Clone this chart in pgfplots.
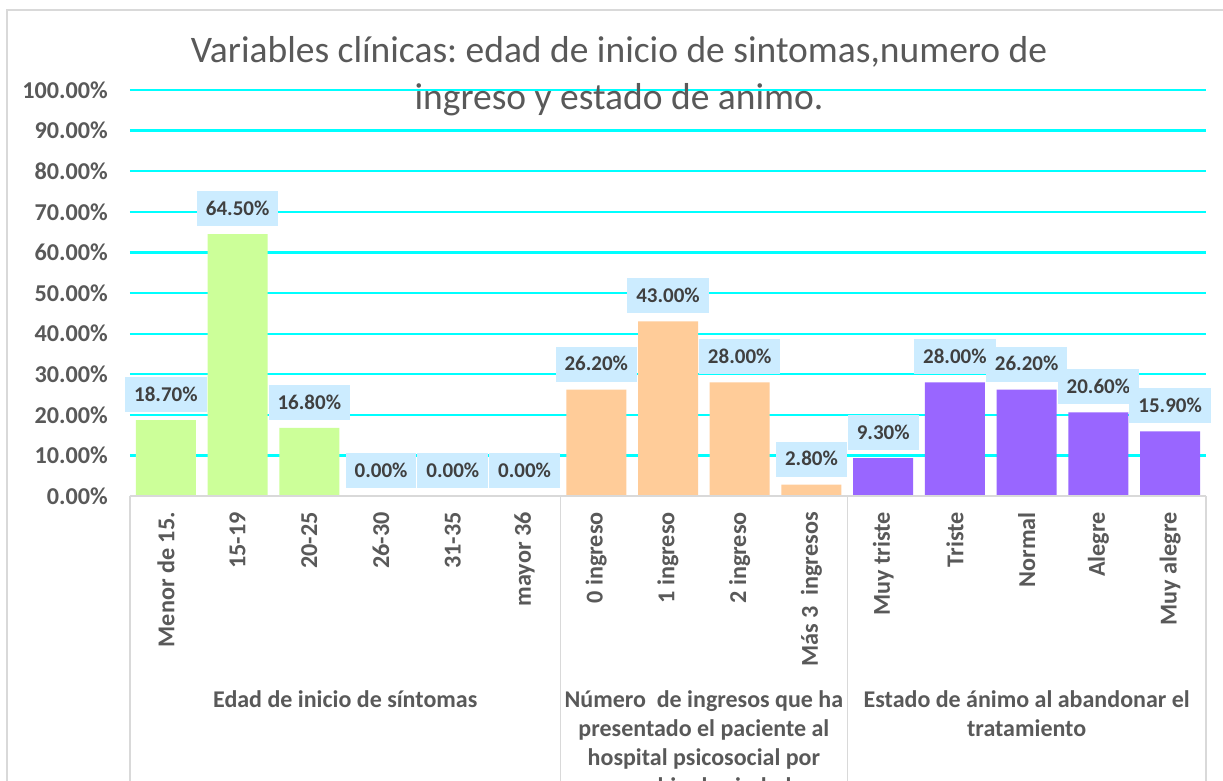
\documentclass[border=0pt]{standalone}
\usepackage{fontspec}
\setmainfont{Carlito}
\usepackage{pgfplots}
\pgfplotsset{compat=1.18}
\frenchspacing
\definecolor{tickgray}{HTML}{595959}
\definecolor{lblgray}{HTML}{404040}
\definecolor{lblfill}{HTML}{CCECFF}
\definecolor{gridc}{HTML}{00FFFF}
\definecolor{axgray}{HTML}{D9D9D9}
\definecolor{cgreen}{HTML}{CCFF99}
\definecolor{corange}{HTML}{FFCC99}
\definecolor{cpurple}{HTML}{9966FF}
\newcommand{\tickfont}{\fontsize{24.2}{28}\selectfont\bfseries}
\newcommand{\grpfont}{\fontsize{24}{28}\selectfont\bfseries}
\begin{document}
\begin{tikzpicture}[x=1pt,y=1pt]
\path[use as bounding box] (0,0) rectangle (1223,780);
\clip (0,0) rectangle (1223,780);
\fill[white] (0,0) rectangle (1223,780);
\draw[axgray, line width=1.5pt] (7,-10) rectangle (1240,770);
\begin{axis}[
  at={(130pt,284pt)}, anchor=south west,
  width=1076pt, height=406pt, scale only axis,
  xmin=-0.5, xmax=14.5, ymin=0, ymax=100,
  clip=false,
  axis line style={draw=none},
  major tick length=0pt,
  ymajorgrids, grid style={gridc, line width=2.2pt},
  ytick={0,10,...,100},
  yticklabels={0.00\%,10.00\%,20.00\%,30.00\%,40.00\%,50.00\%,60.00\%,70.00\%,80.00\%,90.00\%,100.00\%},
  yticklabel style={font=\tickfont, text=tickgray, inner sep=0pt},
  yticklabel shift=22pt,
  xtick={0,...,14},
  xticklabels={Menor de 15.,15-19,20-25,26-30,31-35,mayor 36,0 ingreso,1 ingreso,2 ingreso,{Más 3\ \ ingresos},Muy triste,Triste,Normal,Alegre,Muy alegre},
  xticklabel style={font=\tickfont, text=tickgray, inner sep=0pt, rotate=90, anchor=east},
  xticklabel shift=16pt,
  /pgf/number format/assume math mode=true,
  nodes near coords={\pgfmathprintnumber[fixed,fixed zerofill,precision=2]{\pgfplotspointmeta}\%},
  every node near coord/.append style={fill=lblfill, text=lblgray,
     font=\fontsize{21}{25}\selectfont\bfseries, inner xsep=9pt, inner ysep=10.75pt,
     text height=13.5pt, text depth=0pt, anchor=south, yshift=8pt, outer sep=0pt},
]
\addplot[ybar, bar width=60pt, bar shift=0pt, draw=none, fill=cgreen]
  coordinates {(0,18.7) (1,64.5) (2,16.8) (3,0) (4,0) (5,0)};
\addplot[ybar, bar width=60pt, bar shift=0pt, draw=none, fill=corange]
  coordinates {(6,26.2) (7,43.0) (8,28.0) (9,2.8)};
\addplot[ybar, bar width=60pt, bar shift=0pt, draw=none, fill=cpurple]
  coordinates {(10,9.3) (11,28.0) (12,26.2) (13,20.6) (14,15.9)};
\draw[axgray, line width=1.5pt] (axis cs:-0.5,0) -- (axis cs:14.5,0);
\draw[axgray, line width=1.5pt] (axis cs:-0.5,0) -- ++(0pt,-320pt);
\draw[axgray, line width=1.5pt] (axis cs:5.5,0) -- ++(0pt,-320pt);
\draw[axgray, line width=1.5pt] (axis cs:9.5,0) -- ++(0pt,-320pt);
\draw[axgray, line width=1.5pt] (axis cs:14.5,0) -- ++(0pt,-320pt);
\path (axis cs:2.5,0) ++(0pt,-211pt) node[anchor=base, font=\grpfont, text=tickgray, inner sep=0pt] {Edad de inicio de síntomas};
\path (axis cs:7.5,0) ++(0pt,-211pt) node[anchor=base, font=\grpfont, text=tickgray, inner sep=0pt] {Número\ \ de ingresos que ha};
\path (axis cs:7.5,0) ++(0pt,-240pt) node[anchor=base, font=\grpfont, text=tickgray, inner sep=0pt] {presentado el paciente al};
\path (axis cs:7.5,0) ++(0pt,-269pt) node[anchor=base, font=\grpfont, text=tickgray, inner sep=0pt] {hospital psicosocial por};
\path (axis cs:7.5,0) ++(0pt,-298pt) node[anchor=base, font=\grpfont, text=tickgray, inner sep=0pt] {cambio de ciudad};
\path (axis cs:12,0) ++(0pt,-211pt) node[anchor=base, font=\grpfont, text=tickgray, inner sep=0pt] {Estado de ánimo al abandonar el};
\path (axis cs:12,0) ++(0pt,-240pt) node[anchor=base, font=\grpfont, text=tickgray, inner sep=0pt] {tratamiento};
\end{axis}
\node[font=\fontsize{37.5}{44}\selectfont, text=tickgray, anchor=base, inner sep=0pt] at (619,717) {Variables clínicas: edad de inicio de sintomas,numero de};
\node[font=\fontsize{37.5}{44}\selectfont, text=tickgray, anchor=base, inner sep=0pt] at (619,670) {ingreso y estado de animo.};
\end{tikzpicture}
\end{document}
